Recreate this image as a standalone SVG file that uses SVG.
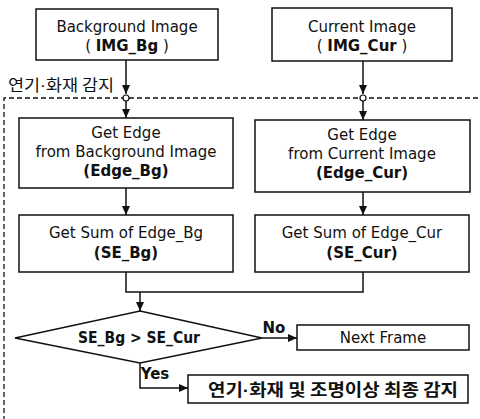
<svg xmlns="http://www.w3.org/2000/svg" width="480" height="419" viewBox="0 0 480 419">
<style>
.box{fill:#fff;stroke:#111;stroke-width:1.5}
.t{font-family:"DejaVu Sans","Liberation Sans",sans-serif;font-size:15px;fill:#111;text-anchor:middle}
.b{font-weight:bold}
.k{font-family:"Noto Sans CJK KR","Noto Sans",sans-serif;fill:#111}
.d{font-family:"Liberation Sans",sans-serif}
.ln{fill:none;stroke:#111;stroke-width:1.5}
.dash{fill:none;stroke:#111;stroke-width:1.3;stroke-dasharray:5 3}
</style>
<defs>
<marker id="ah" markerWidth="10" markerHeight="10" refX="9" refY="5" orient="auto" markerUnits="userSpaceOnUse">
<path d="M0,1 L9,5 L0,9 Z" fill="#111"/>
</marker>
</defs>
<g id="region">
<path class="dash" d="M478,98 H4 V419"/>
<text class="k" x="8" y="91" font-size="16" textLength="106" lengthAdjust="spacingAndGlyphs">연기<tspan class="d">·</tspan>화재 감지</text>
</g>
<g id="connectors">
<path class="ln" d="M126,60 V94" marker-end="url(#ah)"/>
<path class="ln" d="M363,61 V94" marker-end="url(#ah)"/>
<path class="ln" d="M126,101 V118" marker-end="url(#ah)"/>
<path class="ln" d="M363,101 V120" marker-end="url(#ah)"/>
<path class="ln" d="M126,188 V215" marker-end="url(#ah)"/>
<path class="ln" d="M363,192 V215" marker-end="url(#ah)"/>
<path class="ln" d="M126,272 V292 H363 V272"/>
<path class="ln" d="M140,292 V311" marker-end="url(#ah)"/>
<path class="ln" d="M262,338 H297" marker-end="url(#ah)"/>
<path class="ln" d="M140,363 V388 H188" marker-end="url(#ah)"/>
<circle cx="126" cy="98" r="3" fill="#fff" stroke="#111" stroke-width="1.2"/>
<circle cx="363" cy="98" r="3" fill="#fff" stroke="#111" stroke-width="1.2"/>
<text class="t b" x="274" y="333" font-size="12">No</text>
<text class="t b" x="155" y="379" font-size="13">Yes</text>
</g>
<g id="n1">
<rect class="box" x="36" y="9" width="182" height="51"/>
<text class="t" x="127" y="32">Background Image</text>
<text class="t" x="127" y="51">( <tspan class="b">IMG_Bg</tspan> )</text>
</g>
<g id="n2">
<rect class="box" x="272" y="8" width="180" height="53"/>
<text class="t" x="362" y="32">Current Image</text>
<text class="t" x="362" y="51">( <tspan class="b">IMG_Cur</tspan> )</text>
</g>
<g id="n3">
<rect class="box" x="19" y="118" width="214" height="70"/>
<text class="t" x="126" y="138">Get Edge</text>
<text class="t" x="126" y="157">from Background Image</text>
<text class="t b" x="126" y="176">(Edge_Bg)</text>
</g>
<g id="n4">
<rect class="box" x="255" y="120" width="215" height="72"/>
<text class="t" x="362" y="140">Get Edge</text>
<text class="t" x="362" y="159">from Current Image</text>
<text class="t b" x="362" y="178">(Edge_Cur)</text>
</g>
<g id="n5">
<rect class="box" x="19" y="215" width="214" height="57"/>
<text class="t" x="126" y="238">Get Sum of Edge_Bg</text>
<text class="t b" x="126" y="258">(SE_Bg)</text>
</g>
<g id="n6">
<rect class="box" x="255" y="215" width="214" height="57"/>
<text class="t" x="362" y="238">Get Sum of Edge_Cur</text>
<text class="t b" x="362" y="258">(SE_Cur)</text>
</g>
<g id="n7">
<polygon class="box" points="140,311 262,338 140,363 15,338"/>
<text class="t b" x="139" y="343" textLength="122" lengthAdjust="spacingAndGlyphs">SE_Bg &gt; SE_Cur</text>
</g>
<g id="n8">
<rect class="box" x="297" y="325" width="172" height="25"/>
<text class="t" x="383" y="343">Next Frame</text>
</g>
<g id="n9">
<rect class="box" x="188" y="375" width="280" height="28"/>
<text class="k b" x="208" y="396" font-size="17" textLength="250" lengthAdjust="spacingAndGlyphs">연기<tspan class="d">·</tspan>화재 및 조명이상 최종 감지</text>
</g>
</svg>
